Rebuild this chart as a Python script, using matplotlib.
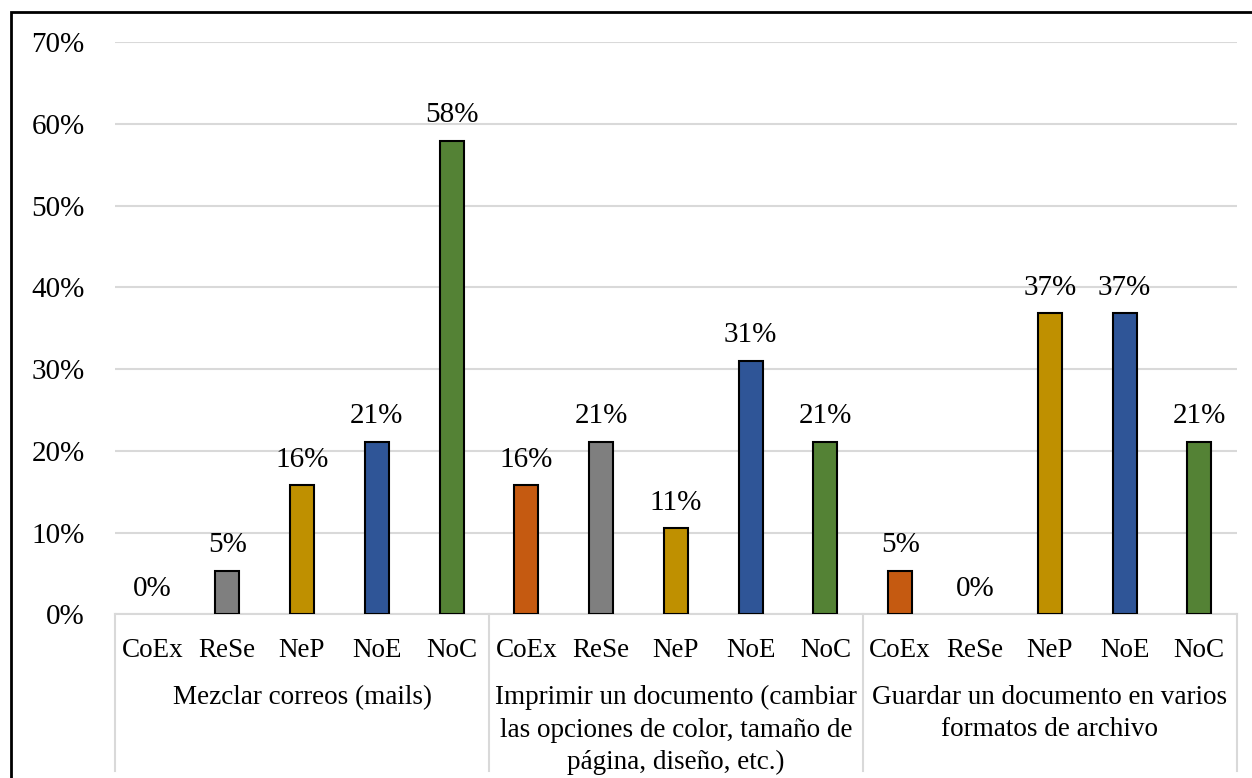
import matplotlib.pyplot as plt
import matplotlib.transforms as mtransforms
from matplotlib.patches import Rectangle

plt.rcParams['font.family'] = ['Liberation Serif', 'DejaVu Serif']

# data
answers = ['CoEx', 'ReSe', 'NeP', 'NoE', 'NoC']
groups = ['Mezclar correos (mails)',
          'Imprimir un documento (cambiar\nlas opciones de color, tamaño de\npágina, diseño, etc.)',
          'Guardar un documento en varios\nformatos de archivo']
mezclar = [0.0, 5.3, 15.8, 21.1, 57.9]
imprimir = [15.8, 21.1, 10.5, 31.0, 21.1]
guardar = [5.3, 0.0, 36.8, 36.8, 21.1]
labels_mezclar = ['0%', '5%', '16%', '21%', '58%']
labels_imprimir = ['16%', '21%', '11%', '31%', '21%']
labels_guardar = ['5%', '0%', '37%', '37%', '21%']
colors = ['#C55A11', '#7F7F7F', '#BF9000', '#2F5597', '#548235']
yticks = [0, 10, 20, 30, 40, 50, 60, 70]

fig = plt.figure(figsize=(12.52, 7.78), dpi=100)
ax = fig.add_axes([0.0919, 0.2104, 0.8959, 0.7356])

all_vals = [mezclar, imprimir, guardar]
all_labels = [labels_mezclar, labels_imprimir, labels_guardar]

for g, (vals, labs) in enumerate(zip(all_vals, all_labels)):
    for i, (v, lab) in enumerate(zip(vals, labs)):
        x = g * len(answers) + i
        if v > 0:
            ax.bar(x, v, width=0.32, color=colors[i], edgecolor='black',
                   linewidth=1.5, zorder=3)
        ax.annotate(lab, (x, v), xytext=(0, 9), textcoords='offset points',
                    ha='center', va='bottom', fontsize=21)

ax.set_xlim(-0.5, 14.5)
ax.set_ylim(0, 70)
ax.set_yticks(yticks)
ax.set_yticklabels([f'{t}%' for t in yticks], fontsize=21)
ax.tick_params(axis='y', length=0, pad=22)
ax.grid(axis='y', color='#D9D9D9', linewidth=1.5, zorder=0)

ax.set_xticks(range(15))
ax.set_xticklabels(answers * 3, fontsize=19.5)
ax.tick_params(axis='x', length=0, pad=17)

for s in ['top', 'right', 'left']:
    ax.spines[s].set_visible(False)
ax.spines['bottom'].set_color('#D9D9D9')
ax.spines['bottom'].set_linewidth(1.5)

# group separators and group labels below the axis
trans = mtransforms.blended_transform_factory(ax.transData, ax.transAxes)
for sx in [-0.5, 4.5, 9.5, 14.5]:
    ax.plot([sx, sx], [0, -0.274], color='#D9D9D9', linewidth=1.5,
            transform=trans, clip_on=False)
for g, name in enumerate(groups):
    ax.text(g * 5 + 2, -0.124, name, transform=trans, ha='center', va='top',
            fontsize=19.5, linespacing=1.38)

# outer frame (cut off at right and bottom)
fig.patches.append(Rectangle((0.0088, -0.1), 1.2, 1.0846, transform=fig.transFigure,
                             fill=False, edgecolor='black', linewidth=2))

fig.savefig('out.png', dpi=100)
